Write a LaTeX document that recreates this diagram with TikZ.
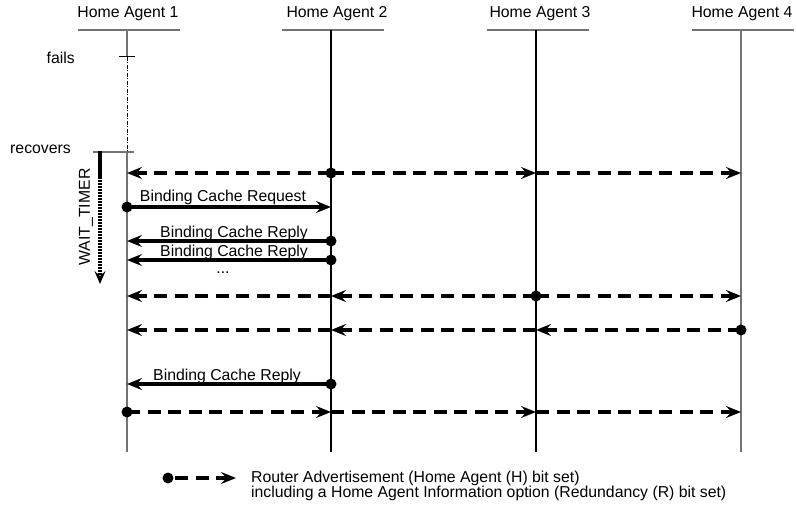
\documentclass[tikz,border=0pt]{standalone}
\usepackage{fontspec}
\setmainfont{Liberation Sans}
\usetikzlibrary{arrows.meta}
\begin{document}
\begin{tikzpicture}[x=1pt,y=-1pt,
  lbl/.style={font=\fontsize{15.8}{17}\selectfont, inner sep=0pt},
  tip/.style={-{Stealth[length=15pt,width=12pt,inset=5.5pt]}},
  msg/.style={line width=3.2pt, tip},
  ra/.style={msg, dash pattern=on 13pt off 7.5pt},
  dotn/.style={circle, fill=black, inner sep=0pt, minimum size=11pt},
  lifeg/.style={draw=black!55, line width=1.6pt},
  lifeb/.style={draw=black, line width=1.2pt},
  headline/.style={draw=black!55, line width=1.6pt}]
\useasboundingbox (0,0) rectangle (797,510);

% headers
\node[lbl] (t1) at (128,14) {Home Agent 1};
\node[lbl] (t2) at (337,14) {Home Agent 2};
\node[lbl] (t3) at (540,14) {Home Agent 3};
\node[lbl] (t4) at (742,14) {Home Agent 4};
\foreach \i/\x in {1/127,2/331,3/536,4/741}{
  \coordinate (hl\i) at (\x-49,30);
  \coordinate (hr\i) at (\x+53,30);
  \coordinate (top\i) at (\x,30);
  \coordinate (bot\i) at (\x,452);
  \draw[headline] (hl\i) -- (hr\i);
}
% lifelines
\draw[lifeb] (top2) -- (bot2);
\draw[lifeb] (top3) -- (bot3);
\draw[lifeg] (top4) -- (bot4);
\coordinate (fail) at (127,57);
\coordinate (rec) at (127,152);
\draw[lifeg] (top1) -- (fail);
\draw[black, line width=0.8pt, dash pattern=on 4pt off 1.5pt on 1pt off 1.5pt] (fail) -- (rec);
\draw[lifeg] (rec) -- (bot1);
\coordinate (fl) at (119,57); \coordinate (fr) at (135,57);
\draw[black, line width=1pt] (fl) -- (fr);
\coordinate (rl) at (93,152); \coordinate (rr) at (134,152);
\draw[headline] (rl) -- (rr);
\node[lbl, anchor=east] (fails) at (75,58) {fails};
\node[lbl, anchor=east] (recovers) at (71,149) {recovers};

% WAIT_TIMER
\coordinate (w0) at (100,151);
\coordinate (w1) at (100,177);
\coordinate (w2) at (100,284);
\draw[line width=3.4pt] (w0) -- (w1);
\draw[line width=3.4pt, dash pattern=on 2pt off 1pt, -{Stealth[length=13pt,width=11pt,inset=5pt]}] (w1) -- (w2);
\node[lbl, rotate=90] (wt) at (86,217) {WAIT\_TIMER};

% row coordinates
\foreach \r/\y in {a/173,b/207,c/241,d/260,e/296,f/330,g/384,h/412}{
  \coordinate (\r1) at (127,\y);
  \coordinate (\r2) at (331,\y);
  \coordinate (\r3) at (536,\y);
  \coordinate (\r4) at (741,\y);
}

% row a: HA2 advertises
\draw[ra] (a2) -- (a1);
\draw[ra] (a2) -- (a3);
\draw[ra] (a3) -- (a4);
\node[dotn] (da) at (a2) {};

% row b: request
\draw[msg] (b1) -- node[lbl, above=0.5pt, xshift=-6pt] (lb) {Binding Cache Request} (b2);
\node[dotn] (db) at (b1) {};

% rows c, d: replies
\draw[msg] (c2) -- node[lbl, above=-1pt, xshift=5pt] (lc) {Binding Cache Reply} (c1);
\node[dotn] (dc) at (c2) {};
\draw[msg] (d2) -- node[lbl, above=-1pt, xshift=5pt] (ld) {Binding Cache Reply} (d1);
\node[dotn] (dd) at (d2) {};
\node[lbl] (dots) at (223,273) {...};

% row e: HA3 advertises
\draw[ra] (e3) -- (e2);
\draw[ra] (e2) -- (e1);
\draw[ra] (e3) -- (e4);
\node[dotn] (de) at (e3) {};

% row f: HA4 advertises
\draw[ra] (f4) -- (f3);
\draw[ra] (f3) -- (f2);
\draw[ra] (f2) -- (f1);
\node[dotn] (df) at (f4) {};

% row g: reply
\draw[msg] (g2) -- node[lbl, above=-1pt, xshift=-2pt] (lg) {Binding Cache Reply} (g1);
\node[dotn] (dg) at (g2) {};

% row h: HA1 advertises
\draw[ra] (h1) -- (h2);
\draw[ra] (h2) -- (h3);
\draw[ra] (h3) -- (h4);
\node[dotn] (dh) at (h1) {};

% legend
\node[dotn] (ld0) at (168,478) {};
\coordinate (le) at (236,478);
\draw[ra, shorten <=7pt] (ld0.center) -- (le);
\node[lbl, anchor=north west, align=left, font=\fontsize{15.8}{15}\selectfont] (legtxt) at (251,471)
  {Router Advertisement (Home Agent (H) bit set)\\including a Home Agent Information option (Redundancy (R) bit set)};
\end{tikzpicture}
\end{document}
